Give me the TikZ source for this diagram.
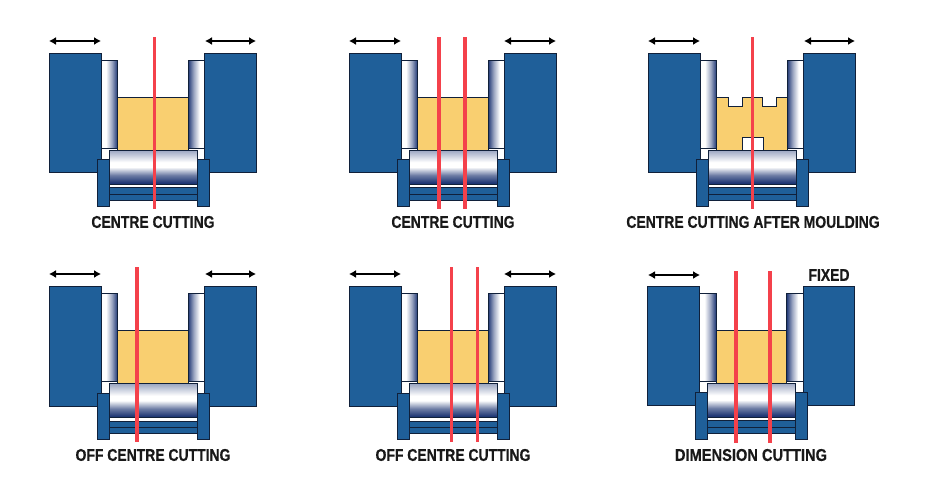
\documentclass[tikz,border=0pt]{standalone}
\usepackage{fontspec}
\setmainfont[FakeStretch=0.82, BoldFeatures={FakeBold=0.6}]{Liberation Sans}
\usetikzlibrary{arrows.meta, positioning, calc}

\definecolor{blockblue}{HTML}{1F5F99}
\definecolor{stockyellow}{HTML}{F9CF70}
\definecolor{sawred}{HTML}{F4414B}
\definecolor{rollernavy}{HTML}{1E3674}
\definecolor{edgedark}{HTML}{10203A}

% only the middle 25bp..75bp of a shading shows on the path
\pgfdeclareverticalshading{feedroll}{100bp}{
  color(0bp)=(rollernavy); color(27bp)=(rollernavy); color(38bp)=(rollernavy!65!white);
  color(50bp)=(white); color(57bp)=(white); color(75bp)=(rollernavy!45!white); color(100bp)=(rollernavy!45!white)}
\pgfdeclarehorizontalshading{leftroll}{100bp}{
  color(0bp)=(white); color(40bp)=(white); color(58bp)=(rollernavy!45!white);
  color(75bp)=(rollernavy); color(100bp)=(rollernavy)}
\pgfdeclarehorizontalshading{rightroll}{100bp}{
  color(0bp)=(rollernavy); color(25bp)=(rollernavy); color(42bp)=(rollernavy!45!white);
  color(60bp)=(white); color(100bp)=(white)}

\begin{document}
\begin{tikzpicture}[
      x=1pt, y=-1pt,
      part/.style={draw=edgedark, line width=0.7pt},
      block/.style={part, fill=blockblue},
      bar/.style={fill=blockblue},
      stock/.style={part, fill=stockyellow},
      saw/.style={draw=sawred, line width=3.4pt},
      arr/.style={{Latex[length=7pt, width=8pt]}-{Latex[length=7pt, width=8pt]}, line width=1.3pt, black},
      caption/.style={font=\bfseries\fontsize{17}{17}\selectfont, text=black!90, inner sep=0pt},
      machine/.pic={
        \path[part, shading=leftroll] (101,60) rectangle (117.5,148);
        \path[part, shading=rightroll] (188,60) rectangle (204.5,148);
        \path[block] (49,53) rectangle (101,172.5);
        \path[block] (204.5,53) rectangle (256,172.5);
        \path[part, shading=feedroll] (109,150) rectangle (197,184);
        \path[bar] (109,187.8) rectangle (197,200);
        \draw[edgedark, line width=0.7pt] (109,187.8) -- (197,187.8);
        \draw[edgedark, line width=0.7pt] (109,193.9) -- (197,193.9);
        \draw[edgedark, line width=0.7pt] (109,200) -- (197,200);
        \path[block] (97,159.5) rectangle (109,206);
        \path[block] (197,159.5) rectangle (209,206);
      }
    ]
    \useasboundingbox (0,0) rectangle (926,490);

    % top row
    \pic at (0,0) {machine};
    \pic at (300,0) {machine};
    \pic at (599,0) {machine};
    \path[stock] (117.5,97) rectangle (188,150);
    \path[stock] (417.5,97) rectangle (488,150);
    \path[stock] (716.5,97) -- (728.5,97) -- (728.5,106) -- (742.5,106) -- (742.5,97) -- (762.5,97)
      -- (762.5,106) -- (776,106) -- (776,97) -- (787,97) -- (787,150) -- (763.5,150) -- (763.5,137.5)
      -- (742.5,137.5) -- (742.5,150) -- (716.5,150) -- cycle;

    % bottom row
    \pic at (0,233.5) {machine};
    \pic at (300,233.5) {machine};
    \pic at (598.5,233) {machine};
    \path[stock] (117.5,330.5) rectangle (188,383.5);
    \path[stock] (417.5,330.5) rectangle (488,383.5);
    \path[stock] (716,330) rectangle (786.5,383);

    % saw lines
    \coordinate (sawa) at (154.5,37);   \coordinate (sawaend) at (154.5,209);
    \coordinate (sawb) at (439,37);     \coordinate (sawbend) at (439,209);
    \coordinate (sawc) at (465,37);     \coordinate (sawcend) at (465,209);
    \coordinate (sawd) at (752.5,37);   \coordinate (sawdend) at (752.5,209);
    \coordinate (sawe) at (137,267);    \coordinate (saweend) at (137,442);
    \coordinate (sawf) at (451.5,267);  \coordinate (sawfend) at (451.5,442);
    \coordinate (sawg) at (477.5,267);  \coordinate (sawgend) at (477.5,442);
    \coordinate (sawh) at (736,271);    \coordinate (sawhend) at (736,443);
    \coordinate (sawi) at (770,271);    \coordinate (sawiend) at (770,443);
    \draw[saw] (sawa) -- (sawaend);
    \draw[saw] (sawb) -- (sawbend);
    \draw[saw] (sawc) -- (sawcend);
    \draw[saw] (sawd) -- (sawdend);
    \draw[saw] (sawe) -- (saweend);
    \draw[saw] (sawf) -- (sawfend);
    \draw[saw] (sawg) -- (sawgend);
    \draw[saw] (sawh) -- (sawhend);
    \draw[saw] (sawi) -- (sawiend);

    % travel arrows
    \draw[arr] (49,41) -- (101,41);
    \draw[arr] (205,41) -- (256,41);
    \draw[arr] (349,41) -- (401,41);
    \draw[arr] (504,41) -- (556,41);
    \draw[arr] (648,41) -- (700,41);
    \draw[arr] (804,41) -- (855,41);
    \draw[arr] (49,274) -- (101,274);
    \draw[arr] (205,274) -- (256,274);
    \draw[arr] (349,274) -- (401,274);
    \draw[arr] (504,274) -- (556,274);
    \draw[arr] (648,275) -- (700,275);

    % captions
    \node[caption] (capa) at (153,222) {CENTRE CUTTING};
    \node[caption] (capb) at (453,222) {CENTRE CUTTING};
    \node[caption] (capc) at (753,222) {CENTRE CUTTING AFTER MOULDING};
    \node[caption] (capd) at (153,455) {OFF CENTRE CUTTING};
    \node[caption] (cape) at (453,455) {OFF CENTRE CUTTING};
    \node[caption, xscale=1.05] (capf) at (751,455) {DIMENSION CUTTING};
    \node[caption] (fixedlabel) at (829,275) {FIXED};

  \end{tikzpicture}
\end{document}
